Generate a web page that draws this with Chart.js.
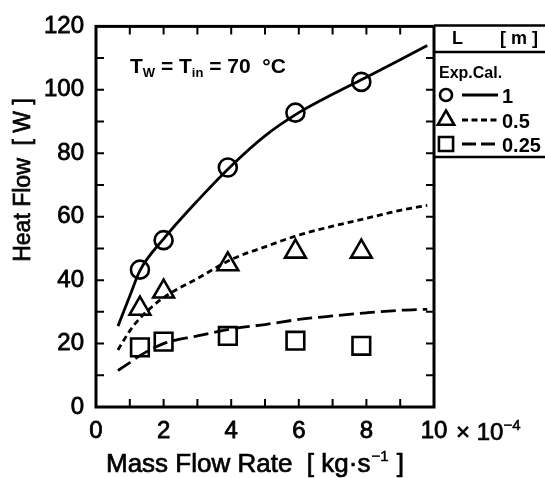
<!DOCTYPE html>
<html>
<head>
<meta charset="utf-8">
<script src="https://cdn.jsdelivr.net/npm/chart.js@4.4.1/dist/chart.umd.min.js"></script>
<style>
html,body{margin:0;padding:0;background:#fff}
#wrap{width:545px;height:478px}
</style>
</head>
<body>
<div id="wrap"><canvas id="chart" width="545" height="478"></canvas></div>
<script>
"use strict"

// calculated curves (lines)
var calX = [0.65, 1, 1.3, 2, 3, 4, 5, 6, 7, 8, 9, 9.8]
var cal1 = [25.5, 35, 43, 53, 65, 76, 85.5, 92.8, 98.6, 104, 109.5, 114]
var cal05 = [18, 24, 28, 34.5, 40.5, 46.5, 50.5, 54.2, 57, 59.5, 62, 63.6]
var cal025 = [11.5, 14, 16.2, 20, 22.4, 24.6, 26, 27.6, 28.7, 29.7, 30.5, 30.8]
// experiments (markers)
var expX = [1.3, 2.0, 3.9, 5.9, 7.85]
var exp1 = [43.3, 52.6, 75.5, 92.8, 102.5]
var exp05 = [31, 36.4, 45, 49, 49]
var exp025 = [18.8, 20.6, 22.4, 20.9, 19.3]
var lengthLabels = ['1', '0.5', '0.25']

var FONT = "'Liberation Sans', Arial, sans-serif"

function pts(xs, ys){
	return xs.map(function(x, i){ return {x: x, y: ys[i]} })
}

function lineSet(ys, dash){
	return {
		data: pts(calX, ys), showLine: true, pointRadius: 0,
		borderColor: '#000', borderWidth: 2.8, borderDash: dash,
		cubicInterpolationMode: 'monotone', fill: false
	}
}

function markSet(ys, style, r){
	return {
		data: pts(expX, ys), showLine: false, pointStyle: style,
		pointRadius: r, pointBorderWidth: 2.6,
		pointBorderColor: '#000', pointBackgroundColor: 'rgba(0,0,0,0)'
	}
}

var frame = {
	id: 'frame',
	afterDraw: function(chart){
		var c = chart.ctx, a = chart.chartArea,
		xs = chart.scales.x, ys = chart.scales.y
		c.save()
		c.strokeStyle = '#000'
		c.fillStyle = '#000'
		// inward ticks
		c.lineWidth = 2
		c.beginPath()
		for (var v = 1; v < 10; v++){
			var px = xs.getPixelForValue(v)
			c.moveTo(px, a.bottom); c.lineTo(px, a.bottom - 8)
			c.moveTo(px, a.top); c.lineTo(px, a.top + 8)
		}
		for (var w = 10; w < 120; w += 10){
			var py = ys.getPixelForValue(w)
			c.moveTo(a.left, py); c.lineTo(a.left + 8, py)
			c.moveTo(a.right, py); c.lineTo(a.right - 8, py)
		}
		c.stroke()
		c.lineWidth = 3
		c.strokeRect(a.left, a.top, a.right - a.left, a.bottom - a.top)

		function txt(t, x, y, sw){
			c.fillText(t, x, y)
			c.lineWidth = sw || 0.7
			c.strokeText(t, x, y)
		}

		// axis titles
		c.textBaseline = 'alphabetic'
		c.font = '23px ' + FONT
		c.save()
		c.translate(30, 180)
		c.rotate(-Math.PI / 2)
		c.textAlign = 'center'
		txt('Heat Flow  [ W ]', 0, 0)
		c.restore()

		c.font = '26px ' + FONT
		c.textAlign = 'left'
		var x0 = 106, base = 472, t1 = 'Mass Flow Rate  [ kg\u00b7s'
		txt(t1, x0, base)
		x0 += c.measureText(t1).width
		c.font = '15px ' + FONT
		txt('\u22121', x0 + 1, base - 11, 0.5)
		x0 += c.measureText('\u22121').width + 2
		c.font = '26px ' + FONT
		txt(' ]', x0, base)

		// x 10^-4 factor
		c.font = '24px ' + FONT
		txt('\u00d7 10', 456, 440)
		var fx = 456 + c.measureText('\u00d7 10').width
		c.font = '15px ' + FONT
		txt('\u22124', fx, 430, 0.5)

		// annotation
		var ax = 130, ab = 73
		function run(t, f, dy){
			c.font = f
			c.fillText(t, ax, ab + (dy || 0))
			ax += c.measureText(t).width
		}
		run('T', 'bold 21px ' + FONT)
		run('W', 'bold 13px ' + FONT, 4)
		run(' = T', 'bold 21px ' + FONT)
		run('in', 'bold 13px ' + FONT, 4)
		run(' = 70  \u00b0C', 'bold 21px ' + FONT)

		// legend box
		var lx = a.right, top = a.top - 1
		c.lineWidth = 2.5
		c.beginPath()
		c.moveTo(lx, top); c.lineTo(545, top)
		c.moveTo(lx, 52); c.lineTo(545, 52)
		c.moveTo(lx, 157); c.lineTo(545, 157)
		c.stroke()
		c.font = 'bold 18px ' + FONT
		c.fillText('L', 452, 44)
		c.fillText('[ m ]', 500, 44)
		c.font = 'bold 16px ' + FONT
		c.fillText('Exp.Cal.', 439, 78)
		var rows = [
			{y: 95, style: 'circle', r: 6, dash: []},
			{y: 120, style: 'triangle', r: 9.5, dash: [6, 3.5]},
			{y: 144, style: 'rect', r: 10, dash: [14, 5]}
		]
		rows.forEach(function(row, i){
			c.lineWidth = 2.6
			c.setLineDash([])
			c.fillStyle = '#fff'
			Chart.helpers.drawPoint(c, {pointStyle: row.style, radius: row.r, borderWidth: 2.6}, 446, row.y)
			c.fillStyle = '#000'
			c.lineWidth = 3
			c.setLineDash(row.dash)
			c.beginPath()
			c.moveTo(462, row.y); c.lineTo(498, row.y)
			c.stroke()
			c.setLineDash([])
			c.font = 'bold 20px ' + FONT
			c.fillText(lengthLabels[i], 502, row.y + 8)
		})
		c.restore()
	}
}

var tickFont = {family: FONT, size: 24}

new Chart(document.getElementById('chart'), {
	type: 'scatter',
	data: {
		datasets: [
			lineSet(cal1, []),
			lineSet(cal05, [6, 4]),
			lineSet(cal025, [15, 6]),
			markSet(exp1, 'circle', 9),
			markSet(exp05, 'triangle', 12),
			markSet(exp025, 'rect', 12.5)
		]
	},
	options: {
		responsive: false,
		animation: false,
		devicePixelRatio: 1,
		layout: {padding: {top: 22, right: 111, left: 0, bottom: 0}},
		plugins: {legend: {display: false}, tooltip: {enabled: false}},
		scales: {
			x: {
				min: 0, max: 10,
				grid: {display: false, drawTicks: false},
				border: {display: false},
				ticks: {stepSize: 2, padding: 10, color: '#000', font: tickFont, textStrokeColor: '#000', textStrokeWidth: 0.8},
				afterFit: function(s){ s.height = 71 }
			},
			y: {
				min: 0, max: 120,
				grid: {display: false, drawTicks: false},
				border: {display: false},
				ticks: {stepSize: 20, padding: 12, color: '#000', font: tickFont, textStrokeColor: '#000', textStrokeWidth: 0.8},
				afterFit: function(s){ s.width = 96 }
			}
		}
	},
	plugins: [frame]
})
</script>
</body>
</html>
